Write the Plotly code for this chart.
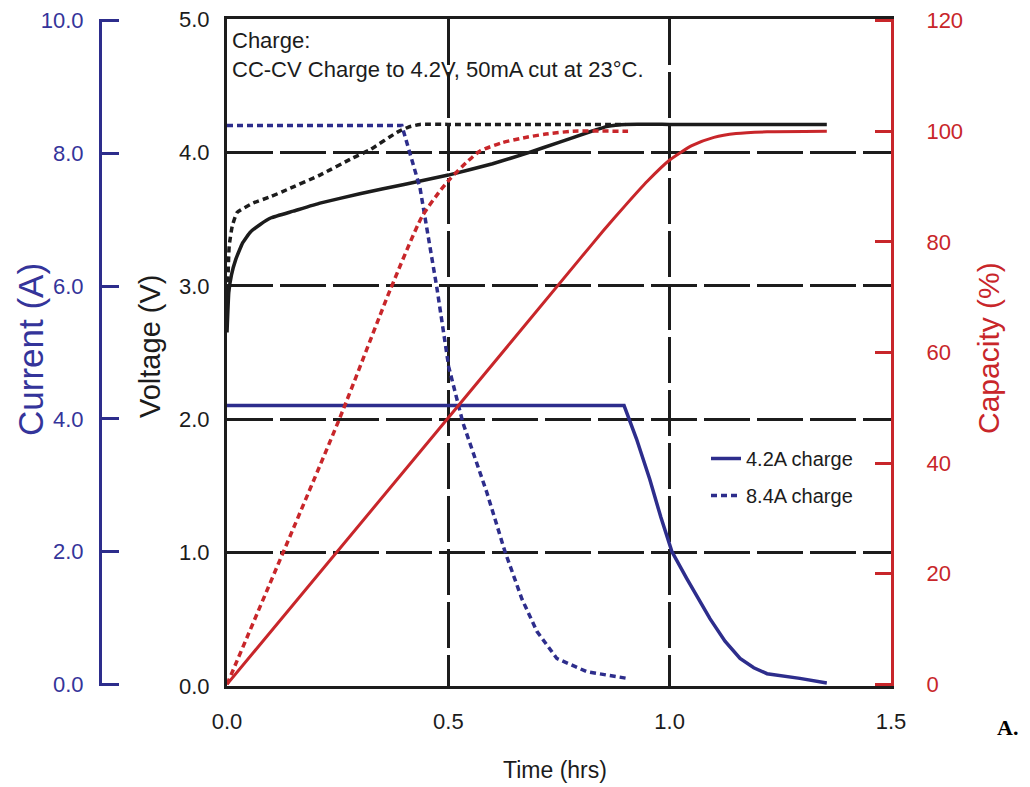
import plotly.graph_objects as go

# ---- data ----
# Voltage, 4.2A charge (solid black)
t_v42 = [0.0, 0.004, 0.01, 0.02, 0.035, 0.052, 0.075, 0.10, 0.15, 0.21, 0.30, 0.40, 0.50, 0.60, 0.678, 0.75, 0.82, 0.86, 0.90, 1.00, 1.20, 1.355]
v_v42 = [2.65, 2.95, 3.08, 3.20, 3.32, 3.40, 3.46, 3.51, 3.56, 3.62, 3.69, 3.76, 3.83, 3.915, 3.995, 4.075, 4.155, 4.195, 4.21, 4.21, 4.21, 4.21]

# Voltage, 8.4A charge (dotted black)
t_v84 = [0.0, 0.005, 0.012, 0.023, 0.059, 0.10, 0.135, 0.21, 0.285, 0.323, 0.384, 0.41, 0.436, 0.50, 0.90]
v_v84 = [2.80, 3.30, 3.45, 3.55, 3.62, 3.67, 3.72, 3.83, 3.96, 4.02, 4.15, 4.19, 4.21, 4.21, 4.21]

# Current, 4.2A charge (solid blue)
t_i42 = [0.0, 0.897, 0.925, 0.955, 0.98, 1.005, 1.039, 1.091, 1.125, 1.159, 1.19, 1.22, 1.294, 1.355]
i_i42 = [4.2, 4.2, 3.70, 3.09, 2.52, 2.00, 1.59, 0.99, 0.65, 0.39, 0.25, 0.16, 0.09, 0.02]

# Current, 8.4A charge (dotted blue)
t_i84 = [0.0, 0.395, 0.436, 0.474, 0.501, 0.533, 0.587, 0.628, 0.666, 0.70, 0.745, 0.813, 0.904]
i_i84 = [8.42, 8.42, 7.48, 5.98, 4.78, 3.94, 2.89, 2.00, 1.29, 0.80, 0.39, 0.19, 0.09]

# Capacity, 4.2A charge (solid red)
t_c42 = [0.0, 0.50, 0.80, 0.85, 0.90, 0.95, 1.00, 1.05, 1.10, 1.15, 1.22, 1.355]
c_c42 = [0.0, 48.2, 77.2, 82.0, 86.6, 91.0, 94.8, 97.4, 98.9, 99.6, 99.9, 100.0]

# Capacity, 8.4A charge (dotted red)
t_c84 = [0.0, 0.255, 0.368, 0.44, 0.481, 0.504, 0.54, 0.571, 0.62, 0.669, 0.72, 0.782, 0.906]
c_c84 = [0.0, 48.2, 71.2, 84.5, 89.2, 91.4, 94.3, 96.4, 97.9, 98.8, 99.5, 100.0, 100.0]

x_ticks = [0.0, 0.5, 1.0, 1.5]
x_labels = ["0.0", "0.5", "1.0", "1.5"]
v_ticks = [0.0, 1.0, 2.0, 3.0, 4.0, 5.0]
v_labels = ["0.0", "1.0", "2.0", "3.0", "4.0", "5.0"]
i_ticks = [0, 2, 4, 6, 8, 10]
i_labels = ["0.0", "2.0", "4.0", "6.0", "8.0", "10.0"]
c_ticks = [0, 20, 40, 60, 80, 100, 120]
c_labels = ["0", "20", "40", "60", "80", "100", "120"]

# ---- styling ----
BLACK = "#1c1c1c"
BLUE = "#2d2d8c"
BLUE_TXT = "#34349a"
RED = "#c8262a"
FONT = "Liberation Sans, Arial, sans-serif"
DOT = "6px,4px"
PAD = 0.0025  # small range padding so the end ticks are drawn

OFF = 8  # page body margin offset
W, H = 1030, 787
ML = 60 - OFF
MT = 19 - OFF
MB = H - (686 - OFF)
MR = W - (891 - OFF)
PW = W - ML - MR
PH = H - MT - MB


def px_x(px):
    return (px - OFF - ML) / PW


def px_y(py):
    return (H - MB - (py - OFF)) / PH


def padded(lo, hi):
    d = (hi - lo) * PAD
    return [lo - d, hi + d]


fig = go.Figure()

fig.add_trace(go.Scatter(x=t_c42, y=c_c42, yaxis="y3", mode="lines",
                         line=dict(color=RED, width=3, shape="spline", smoothing=0.6),
                         showlegend=False, hoverinfo="skip"))
fig.add_trace(go.Scatter(x=t_c84, y=c_c84, yaxis="y3", mode="lines",
                         line=dict(color=RED, width=3.5, dash=DOT, shape="spline", smoothing=0.6),
                         showlegend=False, hoverinfo="skip"))
fig.add_trace(go.Scatter(x=t_v42, y=v_v42, yaxis="y", mode="lines",
                         line=dict(color=BLACK, width=3.5, shape="spline", smoothing=0.3),
                         showlegend=False, hoverinfo="skip"))
fig.add_trace(go.Scatter(x=t_v84, y=v_v84, yaxis="y", mode="lines",
                         line=dict(color=BLACK, width=3.5, dash=DOT, shape="spline", smoothing=0.4),
                         showlegend=False, hoverinfo="skip"))
fig.add_trace(go.Scatter(x=t_i42, y=i_i42, yaxis="y2", mode="lines", name="4.2A charge",
                         legendgroup="a", line=dict(color=BLUE, width=3.5)))
fig.add_trace(go.Scatter(x=t_i84, y=i_i84, yaxis="y2", mode="lines", name="8.4A charge",
                         legendgroup="b", line=dict(color=BLUE, width=3.5, dash=DOT)))

fig.update_layout(
    width=W, height=H,
    margin=dict(l=ML, r=MR, t=MT, b=MB, autoexpand=False),
    paper_bgcolor="white", plot_bgcolor="white",
    font=dict(family=FONT, size=22, color=BLACK),
    xaxis=dict(
        domain=[px_x(227), 1.0], range=[0, 1.5],
        tickvals=x_ticks, ticktext=x_labels, ticks="",
        ticklabelstandoff=14, automargin=False, ticklabeloverflow="allow",
        showline=True, linecolor=BLACK, linewidth=3, mirror=True,
        showgrid=True, gridcolor=BLACK, gridwidth=3, griddash="46px,7px",
        zeroline=False, tickfont=dict(size=22, color=BLACK),
    ),
    yaxis=dict(
        range=[0, 5], tickvals=v_ticks, ticktext=v_labels, ticks="",
        ticklabelstandoff=10, automargin=False, ticklabeloverflow="allow",
        showline=True, linecolor=BLACK, linewidth=3,
        showgrid=True, gridcolor=BLACK, gridwidth=3, griddash="46px,7px",
        zeroline=False, tickfont=dict(size=22, color=BLACK),
    ),
    yaxis2=dict(
        range=padded(0, 10), tickvals=i_ticks, ticktext=i_labels,
        overlaying="y", side="left", anchor="free", position=px_x(100),
        ticks="inside", ticklen=17, tickwidth=3, tickcolor=BLUE,
        ticklabelstandoff=11, automargin=False, ticklabeloverflow="allow",
        showline=True, linecolor=BLUE, linewidth=3,
        showgrid=False, zeroline=False, tickfont=dict(size=22, color=BLUE_TXT),
    ),
    yaxis3=dict(
        range=padded(0, 120), tickvals=c_ticks, ticktext=c_labels,
        overlaying="y", side="right", anchor="x",
        ticks="inside", ticklen=16, tickwidth=3, tickcolor=RED,
        ticklabelstandoff=28, automargin=False, ticklabeloverflow="allow",
        showline=True, linecolor=RED, linewidth=3,
        showgrid=False, zeroline=False, tickfont=dict(size=22, color=RED),
    ),
    legend=dict(
        x=px_x(706), y=px_y(439), xanchor="left", yanchor="top",
        bgcolor="rgba(0,0,0,0)", font=dict(size=20, color=BLACK),
        tracegroupgap=8,
    ),
    showlegend=True,
)

annotations = [
    dict(text="Charge:<br>CC-CV Charge to 4.2V, 50mA cut at 23°C.",
         x=px_x(230), y=px_y(26), xanchor="left", yanchor="top", align="left",
         font=dict(size=22, color=BLACK)),
    dict(text="Time (hrs)", x=px_x(555), y=px_y(770), xanchor="center", yanchor="middle",
         font=dict(size=23, color=BLACK)),
    dict(text="Current (A)", x=px_x(30), y=px_y(350), textangle=-90,
         xanchor="center", yanchor="middle", font=dict(size=35, color=BLUE_TXT)),
    dict(text="Voltage (V)", x=px_x(150), y=px_y(347), textangle=-90,
         xanchor="center", yanchor="middle", font=dict(size=29, color=BLACK)),
    dict(text="Capacity (%)", x=px_x(988), y=px_y(348), textangle=-90,
         xanchor="center", yanchor="middle", font=dict(size=30, color=RED)),
    dict(text="<b>A.</b>", x=px_x(1020), y=px_y(727), xanchor="right", yanchor="middle",
         font=dict(size=22, color="black", family="Liberation Serif, Times New Roman, serif")),
]
for a in annotations:
    a.update(xref="paper", yref="paper", showarrow=False)
fig.update_layout(annotations=annotations)

fig.write_html("out.html")
